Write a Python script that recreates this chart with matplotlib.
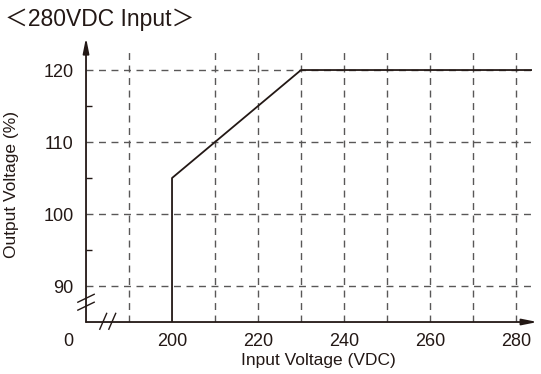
import matplotlib
matplotlib.use('Agg')
import matplotlib.pyplot as plt

plt.rcParams['font.family'] = ['Liberation Sans', 'Noto Sans CJK JP', 'DejaVu Sans']

INK = '#231815'
GRID = '#595757'

# Output voltage limit curve
input_v = [200, 200, 230, 283.5]
output_v = [85, 105, 120, 120]

x_ticks = [200, 220, 240, 260, 280]
x_grid = [190, 210, 220, 230, 240, 250, 260, 270, 280]
y_ticks = [90, 100, 110, 120]
y_minor = [95, 105, 115]

x0, x1 = 180, 285
y0, y1 = 85, 124.5

fig = plt.figure(figsize=(5.41, 3.74), dpi=100)
ax = fig.add_axes([0.159, 0.139, 0.8346, 0.7604])
ax.set_xlim(x0, x1)
ax.set_ylim(y0, y1)
for s in ax.spines.values():
    s.set_visible(False)

# dashed grid
for xv in x_grid:
    ax.plot([xv, xv], [y0, 122.5], color=GRID, lw=1.0, ls=(0, (5, 4)), zorder=1)
for yv in y_ticks:
    ax.plot([x0, 283.5], [yv, yv], color=GRID, lw=1.0, ls=(0, (5, 4)), zorder=1)

ax.plot(input_v, output_v, color=INK, lw=1.3, zorder=3)

# axes with arrows
arrow = dict(arrowstyle='-|>,head_length=0.9,head_width=0.18', color=INK, lw=1.3,
             shrinkA=0, shrinkB=0)
ax.annotate('', xy=(x0, y1), xytext=(x0, y0), arrowprops=arrow, annotation_clip=False)
ax.annotate('', xy=(x1, y0), xytext=(x0, y0), arrowprops=arrow, annotation_clip=False)

# axis break marks
for yc in [88.3, 87.2]:
    ax.plot([178.1, 181.9], [yc - 0.55, yc + 0.55], color=INK, lw=1.0, clip_on=False, zorder=4)
for xc in [184.0, 186.1]:
    ax.plot([xc - 0.8, xc + 0.8], [84.0, 86.2], color=INK, lw=1.0, clip_on=False, zorder=4)

ax.set_xticks(x_ticks)
ax.set_xticklabels([str(v) for v in x_ticks])
ax.set_yticks(y_ticks)
ax.set_yticklabels([str(v) for v in y_ticks])
ax.set_yticks(y_minor, minor=True)
ax.tick_params(axis='both', which='major', length=0, labelsize=13, colors=INK)
ax.tick_params(axis='x', pad=8)
ax.tick_params(axis='y', pad=9)
ax.tick_params(axis='y', which='minor', direction='in', length=4, width=1.0, color=INK)
ax.tick_params(axis='x', which='minor', length=0)

ax.text(175.8, y0 - 1.55, '0', ha='center', va='top', fontsize=13, color=INK, clip_on=False)

fig.text(0.588, 0.036, 'Input Voltage (VDC)', ha='center', va='center', fontsize=12.5, color=INK)
fig.text(0.021, 0.508, 'Output Voltage (%)', ha='center', va='center', rotation=90,
         fontsize=12.5, color=INK)
fig.text(0.009, 0.949, '＜280VDC Input＞', ha='left', va='center', fontsize=16.5, color=INK)

fig.savefig('out.png', dpi=100)
